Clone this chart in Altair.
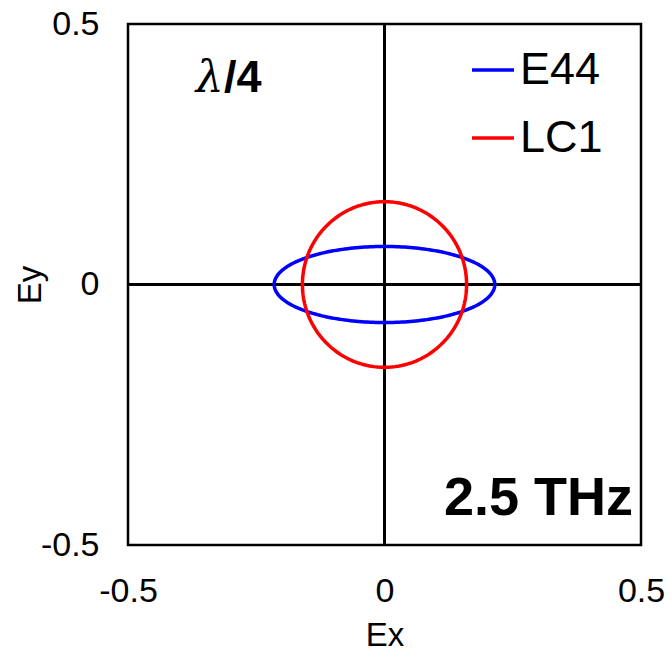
import numpy as np
import pandas as pd
import altair as alt

# Polarization states at 2.5 THz after a quarter-wave retarder
series = ["E44", "LC1"]
amp_x = [0.215, 0.160]        # Ex amplitude
amp_y = [0.073, 0.159]        # Ey amplitude
retardation_deg = [90.0, 90.0]  # phase delay between Ey and Ex
colors = ["#0000FF", "#FF0000"]

axis_ticks = [-0.5, 0, 0.5]

# Trace the field vector over one period for each state
phase = np.linspace(0.0, 2.0 * np.pi, 241)
rows = []
for name, ax_, ay_, d in zip(series, amp_x, amp_y, retardation_deg):
    for i, p in enumerate(phase):
        rows.append({
            "series": name,
            "step": i,
            "Ex": ax_ * np.cos(p),
            "Ey": ay_ * np.cos(p + np.deg2rad(d)),
        })
field = pd.DataFrame(rows)

x_scale = alt.Scale(domain=[-0.5, 0.5], nice=False, zero=False)
y_scale = alt.Scale(domain=[-0.5, 0.5], nice=False, zero=False)

FONT = "Liberation Sans"

x_axis = alt.Axis(
    values=axis_ticks, labelExpr="'' + datum.value", title="Ex",
    labelFlush=False, labelOverlap=False, labelBound=False,
    titleX=256.5, titleY=100, titleBaseline="alphabetic", titleAlign="center",
)
y_axis = alt.Axis(
    values=axis_ticks, labelExpr="'' + datum.value", title="Ey",
    labelFlush=False, labelOverlap=False, labelBound=False,
    titleX=-88, titleY=260.5, titleBaseline="alphabetic", titleAlign="center",
    titleAngle=-90,
)

# Zero lines through the origin
zero_v = alt.Chart(field).mark_rule(color="black", strokeWidth=2.5).encode(
    x=alt.datum(0, scale=x_scale)
)
zero_h = alt.Chart(field).mark_rule(color="black", strokeWidth=2.5).encode(
    y=alt.datum(0, scale=y_scale)
)

curves = alt.Chart(field).mark_line(strokeWidth=3.5, strokeCap="round", strokeJoin="round").encode(
    x=alt.X("Ex:Q", scale=x_scale, axis=x_axis),
    y=alt.Y("Ey:Q", scale=y_scale, axis=y_axis),
    order="step:Q",
    color=alt.Color(
        "series:N",
        scale=alt.Scale(domain=series, range=colors),
        legend=alt.Legend(
            title=None, orient="none", legendX=342, legendY=23,
            symbolType="stroke", symbolSize=1764, symbolStrokeWidth=3.5,
            labelFont=FONT, labelFontSize=45, labelColor="black",
            labelOffset=4, rowPadding=22, padding=0,
        ),
    ),
)

# Annotations
lam = pd.DataFrame({"x": [-0.368], "y": [0.3695], "t": ["λ"]})
quarter = pd.DataFrame({"x": [-0.313], "y": [0.3695], "t": ["/4"]})
freq = pd.DataFrame({"x": [0.4844], "y": [-0.4424], "t": ["2.5 THz"]})

lam_txt = alt.Chart(lam).mark_text(
    font="DejaVu Serif", fontStyle="italic", fontSize=44,
    align="left", baseline="alphabetic", color="black",
).encode(x=alt.X("x:Q", scale=x_scale), y=alt.Y("y:Q", scale=y_scale), text="t:N")

quarter_txt = alt.Chart(quarter).mark_text(
    font=FONT, fontWeight="bold", fontSize=45,
    align="left", baseline="alphabetic", color="black",
).encode(x=alt.X("x:Q", scale=x_scale), y=alt.Y("y:Q", scale=y_scale), text="t:N")

freq_txt = alt.Chart(freq).mark_text(
    font=FONT, fontWeight="bold", fontSize=54,
    align="right", baseline="alphabetic", color="black",
).encode(x=alt.X("x:Q", scale=x_scale), y=alt.Y("y:Q", scale=y_scale), text="t:N")

chart = (
    alt.layer(zero_v, zero_h, curves, lam_txt, quarter_txt, freq_txt)
    .properties(
        width=513, height=521,
        autosize=alt.AutoSizeParams(type="none"),
        padding={"left": 128, "top": 24, "right": 30, "bottom": 106},
        background="white",
    )
    .configure_view(stroke="black", strokeWidth=2.5)
    .configure_axis(
        ticks=False, tickSize=0, domain=False, grid=False,
        labelFont=FONT, labelFontSize=34, labelColor="black", labelPadding=29,
        titleFont=FONT, titleFontSize=33, titleFontWeight="normal", titleColor="black",
    )
)

chart.save("out.html", embed_options={"renderer": "svg", "actions": False})
